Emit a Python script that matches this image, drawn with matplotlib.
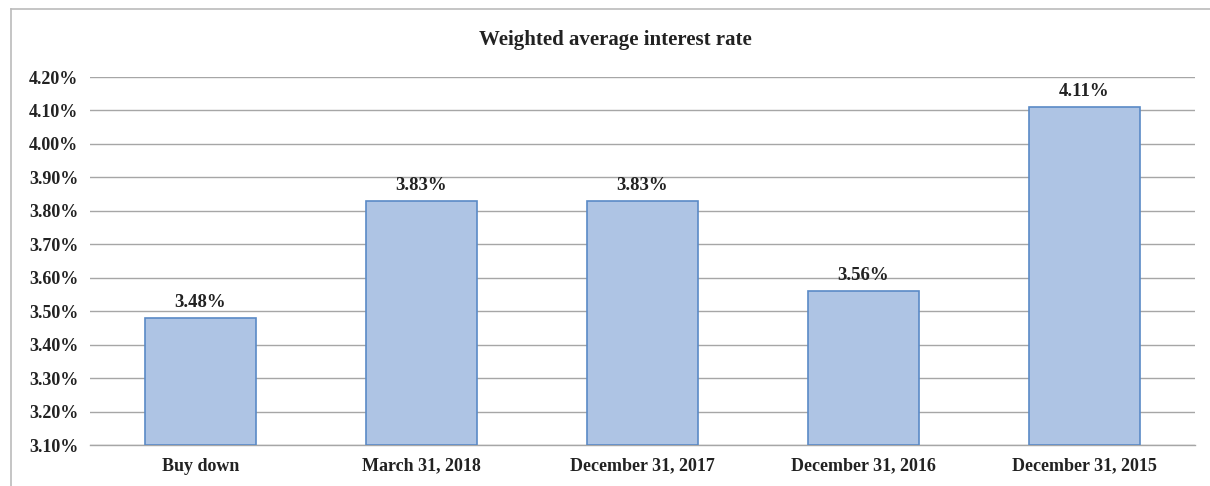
import matplotlib.pyplot as plt
from matplotlib.lines import Line2D

categories = ["Buy down", "March 31, 2018", "December 31, 2017", "December 31, 2016", "December 31, 2015"]
values = [3.48, 3.83, 3.83, 3.56, 4.11]
yticks = [3.10, 3.20, 3.30, 3.40, 3.50, 3.60, 3.70, 3.80, 3.90, 4.00, 4.10, 4.20]
title = "Weighted average interest rate"

plt.rcParams['font.family'] = ['Liberation Serif', 'DejaVu Serif']
W, H = 1210, 486
fig = plt.figure(figsize=(W/100, H/100), dpi=100)
ax = fig.add_axes([90/W, 1-445/H, (1195-90)/W, (445-77)/H])

x = range(len(categories))
ax.bar(x, [v - 3.10 for v in values], bottom=3.10, width=0.5,
       color='#AEC4E4', edgecolor='#5A8AC6', linewidth=1.2, zorder=3)
for xi, v in zip(x, values):
    ax.text(xi, v + 0.02, f"{v:.2f}%", ha='center', va='bottom',
            fontsize=13.5, fontweight='bold', color='#222222', zorder=4)

ax.set_xlim(-0.5, len(categories) - 0.5)
ax.set_ylim(3.10, 4.20)
ax.set_yticks(yticks)
ax.set_yticklabels([f"{t:.2f}%" for t in yticks])
ax.set_xticks(list(x))
ax.set_xticklabels(categories)
ax.tick_params(axis='both', length=0, labelsize=13, colors='#222222')
ax.tick_params(axis='y', pad=8.5)
ax.tick_params(axis='x', pad=9)
for lbl in ax.get_xticklabels() + ax.get_yticklabels():
    lbl.set_fontweight('bold')
ax.grid(axis='y', color='#A6A6A6', linewidth=1.0, zorder=0)
for s in ['left', 'right', 'top']:
    ax.spines[s].set_visible(False)
ax.spines['bottom'].set_color('#A6A6A6')
ax.spines['bottom'].set_linewidth(1.0)

fig.text(615/W, 1-40/H, title, ha='center', va='center', fontsize=15,
         fontweight='bold', color='#222222')

# outer border (left and top visible)
fig.add_artist(Line2D([10.5/W, 10.5/W], [0, 1-9.5/H], transform=fig.transFigure,
                      color='#BBBBBB', linewidth=1.2))
fig.add_artist(Line2D([10.5/W, 1], [1-9.5/H, 1-9.5/H], transform=fig.transFigure,
                      color='#BBBBBB', linewidth=1.2))

fig.savefig('out.png', dpi=100)
